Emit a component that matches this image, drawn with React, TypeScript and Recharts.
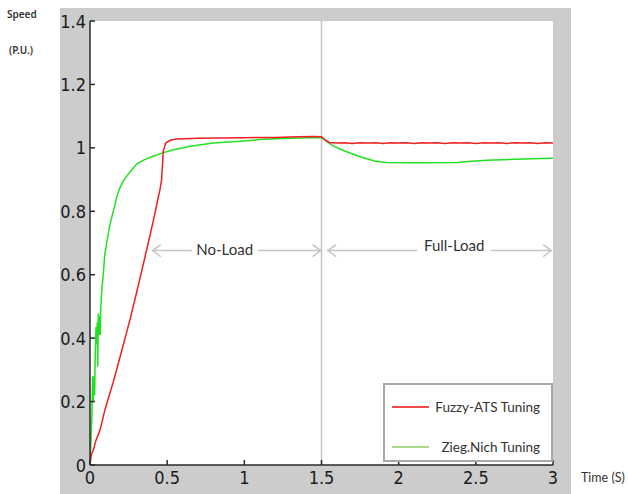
import React from 'react';
import { LineChart, Line, XAxis, YAxis, ReferenceLine, Legend, CartesianGrid } from 'recharts';

// ---- data ----
const xTicks = [0, 0.5, 1, 1.5, 2, 2.5, 3];
const yTicks = [0, 0.2, 0.4, 0.6, 0.8, 1, 1.2, 1.4];

const seriesNames = ['Fuzzy-ATS Tuning', 'Zieg.Nich Tuning'];

const fuzzyTime = [0, 0.005, 0.01, 0.02, 0.04, 0.065, 0.1, 0.15, 0.2, 0.26, 0.3, 0.367, 0.41, 0.454, 0.464, 0.475, 0.49, 0.52, 0.56, 0.7, 0.85, 1.0, 1.2, 1.35, 1.45, 1.5, 1.52, 1.55, 1.6, 1.65, 1.7, 1.75, 1.8, 1.85, 1.9, 1.95, 2.0, 2.05, 2.1, 2.15, 2.2, 2.25, 2.3, 2.35, 2.4, 2.45, 2.5, 2.55, 2.6, 2.65, 2.7, 2.75, 2.8, 2.85, 2.9, 2.95, 3.0];
const fuzzySpeed = [0, 0.02, 0.035, 0.045, 0.08, 0.11, 0.18, 0.26, 0.35, 0.46, 0.54, 0.678, 0.77, 0.87, 0.9, 0.99, 1.015, 1.024, 1.028, 1.03, 1.031, 1.032, 1.033, 1.035, 1.036, 1.035, 1.026, 1.017, 1.015, 1.016, 1.014, 1.016, 1.015, 1.016, 1.014, 1.016, 1.015, 1.016, 1.014, 1.016, 1.015, 1.016, 1.014, 1.016, 1.015, 1.016, 1.014, 1.016, 1.015, 1.016, 1.014, 1.016, 1.015, 1.016, 1.014, 1.016, 1.015];

const ziegTime = [0, 0.005, 0.012, 0.017, 0.021, 0.025, 0.03, 0.034, 0.039, 0.043, 0.047, 0.05, 0.054, 0.058, 0.062, 0.066, 0.07, 0.078, 0.086, 0.095, 0.108, 0.13, 0.151, 0.173, 0.19, 0.216, 0.26, 0.302, 0.35, 0.4, 0.475, 0.55, 0.65, 0.8, 1.0, 1.12, 1.3, 1.5, 1.55, 1.575, 1.65, 1.75, 1.85, 1.92, 2.1, 2.38, 2.45, 2.57, 2.75, 2.98, 3.0];
const ziegSpeed = [0, 0.06, 0.15, 0.28, 0.2, 0.28, 0.22, 0.35, 0.435, 0.38, 0.45, 0.31, 0.478, 0.41, 0.47, 0.41, 0.5, 0.56, 0.6, 0.66, 0.7, 0.76, 0.8, 0.844, 0.87, 0.896, 0.925, 0.949, 0.962, 0.972, 0.985, 0.995, 1.005, 1.015, 1.022, 1.027, 1.03, 1.033, 1.015, 1.006, 0.99, 0.972, 0.958, 0.954, 0.953, 0.954, 0.957, 0.961, 0.964, 0.967, 0.967];

const regionLabels = ['No-Load', 'Full-Load'];
const noLoadSpan = [0.4, 1.5];
const fullLoadSpan = [1.535, 2.995];
const arrowLevel = 0.676;
const loadStepTime = 1.5;

const fuzzyData = fuzzyTime.map((t, i) => ({ t, v: fuzzySpeed[i] }));
const ziegData = ziegTime.map((t, i) => ({ t, v: ziegSpeed[i] }));

// ---- styles ----
const TICK_FONT = "'Liberation Sans Narrow', 'Arial Narrow', 'DejaVu Sans Condensed', sans-serif";
const LABEL_FONT = "Lato, 'Open Sans', sans-serif";
const RED = '#ee2020';
const GREEN = '#22e022';
const FRAME = '#2a2a2a';

const BottomTick = (p: any) => (
  <g>
    <line x1={p.x} x2={p.x} y1={p.y} y2={p.y - 5} stroke={FRAME} strokeWidth={1.5} />
    <text x={p.x} y={p.y + 12} textAnchor="middle" dominantBaseline="central" fontFamily={TICK_FONT} fontSize={18} fill="#1a1a1a">
      {p.payload.value}
    </text>
  </g>
);
const LeftTick = (p: any) => (
  <g>
    <line x1={p.x} x2={p.x + 5} y1={p.y} y2={p.y} stroke={FRAME} strokeWidth={1.5} />
    <text x={p.x - 4} y={p.y} textAnchor="end" dominantBaseline="central" fontFamily={TICK_FONT} fontSize={18} fill="#1a1a1a">
      {p.payload.value}
    </text>
  </g>
);
const TopTick = (p: any) => <line x1={p.x} x2={p.x} y1={p.y} y2={p.y + 5} stroke={FRAME} strokeWidth={1.5} />;
const RightTick = (p: any) => <line x1={p.x} x2={p.x - 5} y1={p.y} y2={p.y} stroke={FRAME} strokeWidth={1.5} />;

const makeArrow = (label: string, centerFrac: number, gap: number, textDy: number) => (p: any) => {
  const { x1, y1, x2 } = p;
  const cx = x1 + (x2 - x1) * centerFrac;
  const c = '#c4c4c4';
  return (
    <g>
      <line x1={x1} y1={y1} x2={cx - gap / 2} y2={y1} stroke={c} strokeWidth={1.5} />
      <line x1={cx + gap / 2} y1={y1} x2={x2} y2={y1} stroke={c} strokeWidth={1.5} />
      <polyline points={`${x1 + 9},${y1 - 6} ${x1 + 1},${y1} ${x1 + 9},${y1 + 6}`} fill="none" stroke={c} strokeWidth={1.5} />
      <polyline points={`${x2 - 9},${y1 - 6} ${x2 - 1},${y1} ${x2 - 9},${y1 + 6}`} fill="none" stroke={c} strokeWidth={1.5} />
      <text x={cx} y={y1 + textDy} textAnchor="middle" dominantBaseline="central" fontFamily={LABEL_FONT} fontSize={15} fill="#333">
        {label}
      </text>
    </g>
  );
};

const legendColors: Record<string, string> = { 'Fuzzy-ATS Tuning': '#f04a4a', 'Zieg.Nich Tuning': '#a6d98a' };

const LegendBox = (props: any) => {
  const items = [...(props.payload || [])].sort(
    (a: any, b: any) => seriesNames.indexOf(a.value) - seriesNames.indexOf(b.value)
  );
  return (
    <div style={{ position: 'relative', width: 170, height: 79, boxSizing: 'border-box', border: '2px solid #a8a8a8', background: '#fff' }}>
      {items.map((it: any, i: number) => (
        <div key={it.value} style={{ position: 'absolute', left: 0, right: 0, top: 22 + i * 40 - 10, height: 20 }}>
          <svg width={40} height={20} style={{ position: 'absolute', left: 7, top: 0 }}>
            <line x1={0} x2={37} y1={10} y2={10} stroke={legendColors[it.value] || it.color} strokeWidth={2} />
          </svg>
          <span style={{ position: 'absolute', right: 11, top: 0, lineHeight: '20px', fontFamily: LABEL_FONT, fontSize: 13.5, color: '#333', whiteSpace: 'nowrap' }}>
            {it.value}
          </span>
        </div>
      ))}
    </div>
  );
};

export default function App() {
  return (
    <div style={{ position: 'absolute', left: 0, top: 0, width: 628, height: 494, overflow: 'hidden', background: '#fff' }}>
      <div style={{ position: 'absolute', left: 60, top: 8, width: 511, height: 486, background: '#cccccc' }} />
      <div style={{ position: 'absolute', left: 7, top: 7, fontFamily: "'Noto Sans', sans-serif", fontSize: 10, fontWeight: 600, color: '#333' }}>Speed</div>
      <div style={{ position: 'absolute', left: 9, top: 43, fontFamily: "'Noto Sans', sans-serif", fontSize: 10, fontWeight: 600, color: '#333' }}>(P.U.)</div>
      <div style={{ position: 'absolute', left: 581, top: 470, fontFamily: LABEL_FONT, fontSize: 12.5, color: '#333', whiteSpace: 'nowrap' }}>Time (S)</div>
      <div style={{ position: 'absolute', left: 0, top: 0 }}>
        <LineChart width={628} height={494} margin={{ top: 21, right: 75, bottom: 0, left: 60 }}>
          <CartesianGrid horizontal={false} vertical={false} fill="#ffffff" />
          <XAxis xAxisId={0} dataKey="t" type="number" domain={[0, 3]} ticks={xTicks} allowDataOverflow
            height={29} tickSize={0} tickMargin={0} tickLine={false} axisLine={{ stroke: FRAME, strokeWidth: 1.5 }} tick={<BottomTick />} interval={0} />
          <XAxis xAxisId="top" orientation="top" dataKey="t" type="number" domain={[0, 3]} ticks={xTicks} allowDataOverflow
            height={0} tickSize={0} tickMargin={0} tickLine={false} axisLine={{ stroke: FRAME, strokeWidth: 1.5 }} tick={<TopTick />} interval={0} />
          <YAxis yAxisId={0} type="number" domain={[0, 1.4]} ticks={yTicks} allowDataOverflow
            width={30} tickSize={0} tickMargin={0} tickLine={false} axisLine={{ stroke: FRAME, strokeWidth: 1.5 }} tick={<LeftTick />} interval={0} />
          <YAxis yAxisId="right" orientation="right" type="number" domain={[0, 1.4]} ticks={yTicks} allowDataOverflow
            width={0} tickSize={0} tickMargin={0} tickLine={false} axisLine={{ stroke: FRAME, strokeWidth: 1.5 }} tick={<RightTick />} interval={0} />
          <ReferenceLine x={loadStepTime} stroke="#c4c4c4" strokeWidth={1.5} />
          <ReferenceLine segment={[{ x: noLoadSpan[0], y: arrowLevel }, { x: noLoadSpan[1], y: arrowLevel }]}
            shape={makeArrow(regionLabels[0], 0.43, 66, -2)} />
          <ReferenceLine segment={[{ x: fullLoadSpan[0], y: arrowLevel }, { x: fullLoadSpan[1], y: arrowLevel }]}
            shape={makeArrow(regionLabels[1], 0.565, 74, -6)} />
          <Line data={ziegData} dataKey="v" name={seriesNames[1]} stroke={GREEN} strokeWidth={1.5} dot={false} isAnimationActive={false} />
          <Line data={fuzzyData} dataKey="v" name={seriesNames[0]} stroke={RED} strokeWidth={1.5} dot={false} isAnimationActive={false} />
          <Legend layout="vertical" align="center" verticalAlign="middle" content={<LegendBox />}
            wrapperStyle={{ position: 'absolute', left: 383, top: 383, width: 170, height: 79 }} />
        </LineChart>
      </div>
    </div>
  );
}
